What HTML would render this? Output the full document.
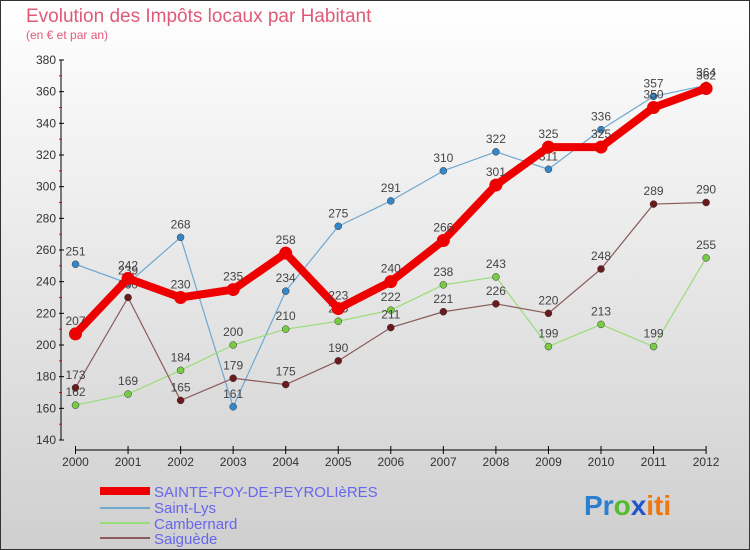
<!DOCTYPE html>
<html><head><meta charset="utf-8"><style>
body{margin:0;width:750px;height:550px;overflow:hidden;font-family:"Liberation Sans",sans-serif}
#c{position:absolute;left:0;top:0;width:748px;height:548px;border:1px solid #333;background:linear-gradient(#ffffff,#cfcfcf)}
</style></head><body>
<div id="c">
<svg id="s" width="750" height="550" style="position:absolute;left:-1px;top:-1px">
<text x="26" y="22" font-size="19" fill="#e05a78">Evolution des Impôts locaux par Habitant</text>
<text x="26" y="39" font-size="12" fill="#e05a78">(en € et par an)</text>
<g id="g"></g>
<g>
<rect x="100" y="487" width="50" height="8" fill="#ee0000"/><text x="154" y="497" font-size="15" fill="#6666ee">SAINTE-FOY-DE-PEYROLIèRES</text>
<rect x="100" y="507" width="50" height="2" fill="#6fa8d0"/><text x="154" y="513" font-size="15" fill="#6666ee">Saint-Lys</text>
<rect x="100" y="522" width="50" height="2" fill="#99dd77"/><text x="154" y="529" font-size="15" fill="#6666ee">Cambernard</text>
<rect x="100" y="537" width="50" height="2" fill="#8b5a5a"/><text x="154" y="544" font-size="15" fill="#6666ee">Saiguède</text>
</g>
<text x="584" y="515" font-size="28" font-weight="bold"><tspan fill="#2a7fcf">Pr</tspan><tspan fill="#55bb33">o</tspan><tspan fill="#2255cc">x</tspan><tspan fill="#ee7711">iti</tspan></text>
</svg></div>
<script>
const years=[2000,2001,2002,2003,2004,2005,2006,2007,2008,2009,2010,2011,2012];
const yTicks=[140,160,180,200,220,240,260,280,300,320,340,360,380];
const sainteFoy=[207,242,230,235,258,223,240,266,301,325,325,350,362];
const saintLys=[251,239,268,161,234,275,291,310,322,311,336,357,364];
const cambernard=[162,169,184,200,210,215,222,238,243,199,213,199,255];
const saiguede=[173,230,165,179,175,190,211,221,226,220,248,289,290];
const NS="http://www.w3.org/2000/svg",g=document.getElementById('g');
const X=i=>75.5+i*52.55, Y=v=>60+(380-v)*380/240;
function mk(t,a,p){const e=document.createElementNS(NS,t);for(const k in a)e.setAttribute(k,a[k]);(p||g).appendChild(e);return e;}
let ax=mk('line',{x1:61,y1:Y(380),x2:61,y2:Y(140),stroke:'#000'});


yTicks.forEach((v,i)=>{mk('line',{x1:59,x2:64,y1:Y(v),y2:Y(v),stroke:'#000'});
 if(i<yTicks.length-1)mk('line',{x1:59,x2:62,y1:Y(v+10),y2:Y(v+10),stroke:'#e00'});
 const t=mk('text',{x:56,y:Y(v)+4,'font-size':12,fill:'#333','text-anchor':'end'});t.textContent=v;
 
 });
let xa=mk('line',{x1:X(0),x2:X(12),y1:450,y2:450,stroke:'#000'});


years.forEach((y,i)=>{mk('line',{x1:X(i),x2:X(i),y1:446,y2:454,stroke:'#000'});
 const t=mk('text',{x:X(i),y:466,'font-size':12,fill:'#333','text-anchor':'middle'});t.textContent=y;
 
 });
function series(d,col,w,r,fill,name){
 const p=mk('polyline',{points:d.map((v,i)=>X(i)+','+Y(v)).join(' '),fill:'none',stroke:col,'stroke-width':w,'stroke-linejoin':'round'});
 
 
 d.forEach((v,i)=>{const c=mk('circle',{cx:X(i),cy:Y(v),r:r,fill:fill,stroke:w>3?'none':'#333','stroke-width':0.5});
  
  
  const t=mk('text',{x:X(i),y:Y(v)-9,'font-size':12,fill:'#444','text-anchor':'middle'});t.textContent=v;
  
  });
}
series(saintLys,'#6fa8d0',1.2,3.5,'#3388cc','saint-lys');
series(cambernard,'#99dd77',1.2,3.5,'#77cc44','cambernard');
series(saiguede,'#8b5a5a',1.2,3.5,'#6a1a1a','saiguede');
series(sainteFoy,'#ee0000',8,6.5,'#ee0000','sainte-foy');
</script>
</body></html>
